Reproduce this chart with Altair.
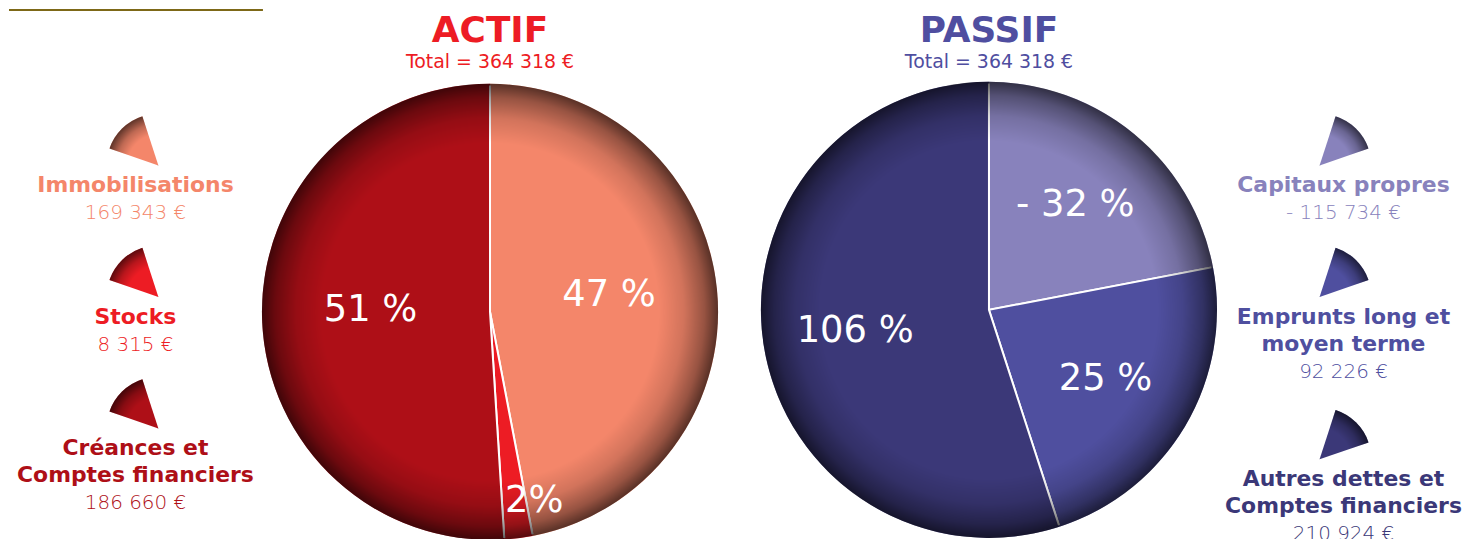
import math
import altair as alt
import pandas as pd

FONT = "DejaVu Sans"

# ---------- données ----------
actif_postes = ["Immobilisations", "Stocks", "Créances et\nComptes financiers"]
actif_montants = [169343, 8315, 186660]
actif_pourcentages = ["47 %", "2%", "51 %"]
actif_parts = [47, 2, 51]          # part du disque telle que dessinée (%)
actif_couleurs = ["#f4866a", "#ed1c24", "#ae0f17"]

passif_postes = ["Capitaux propres", "Emprunts long et\nmoyen terme", "Autres dettes et\nComptes financiers"]
passif_montants = [-115734, 92226, 210924]
passif_pourcentages = ["- 32 %", "25 %", "106 %"]
passif_parts = [22, 23, 55]        # part du disque telle que dessinée (%)
passif_couleurs = ["#8882bc", "#4f4f9f", "#3b3878"]

total_bilan = 364318
titres = ["ACTIF", "PASSIF"]
couleurs_titres = ["#ed1c24", "#4f4ea0"]


def euro(v):
    s = f"{abs(v):,}".replace(",", " ") + " €"
    return ("- " + s) if v < 0 else s


INTERLIGNE_SUPP = 31 / 132  # décalage vertical d'une entrée par ligne de libellé supplémentaire


def table(postes, montants, pourcentages, parts):
    lignes = [p.count("\n") + 1 for p in postes]
    rang, extra = [], 0
    for i, n in enumerate(lignes):
        rang.append(i + INTERLIGNE_SUPP * extra)
        extra += n - 1
    return pd.DataFrame({
        "poste": postes,
        "montant": [euro(m) for m in montants],
        "pourcentage": pourcentages,
        "part": parts,
        "ordre": list(range(len(postes))),
        "lignes": lignes,
        "rang": rang,
    })


df_actif = table(actif_postes, actif_montants, actif_pourcentages, actif_parts)
df_passif = table(passif_postes, passif_montants, passif_pourcentages, passif_parts)

couleur = alt.Scale(domain=actif_postes + passif_postes, range=actif_couleurs + passif_couleurs)
col = alt.Color("poste:N", scale=couleur, legend=None)

# ---------- styles ----------
R = 229
R_ICONE = 52

ombre_disque = {
    "gradient": "radial", "x1": 0.5, "y1": 0.5, "r1": 0, "x2": 0.5, "y2": 0.5, "r2": 0.5,
    "stops": [
        {"offset": 0, "color": "rgba(0,0,0,0)"},
        {"offset": 0.74, "color": "rgba(0,0,0,0)"},
        {"offset": 0.85, "color": "rgba(0,0,0,0.14)"},
        {"offset": 0.94, "color": "rgba(0,0,0,0.38)"},
        {"offset": 1, "color": "rgba(0,0,0,0.64)"},
    ],
}


def ombre_icone(cx):
    return {
        "gradient": "radial", "x1": cx, "y1": 1.0, "r1": 0, "x2": cx, "y2": 1.0, "r2": 1.051,
        "stops": [
            {"offset": 0, "color": "rgba(0,0,0,0)"},
            {"offset": 0.6, "color": "rgba(0,0,0,0)"},
            {"offset": 0.8, "color": "rgba(0,0,0,0.22)"},
            {"offset": 1, "color": "rgba(0,0,0,0.62)"},
        ],
    }


def legende(df, largeur, decalage_x, theta_deb, theta_fin, degrade, extra_layers=()):
    y = alt.Y("rang:Q", stack=None, scale=alt.Scale(domain=[0, 2], range=[90, 354]), axis=None)
    base = alt.Chart(df)
    icone = base.mark_arc(radius=R_ICONE, theta=theta_deb, theta2=theta_fin,
                          xOffset=decalage_x).encode(y=y, color=col)
    reflet = base.mark_arc(radius=R_ICONE, theta=theta_deb, theta2=theta_fin,
                           xOffset=decalage_x, fill=degrade).encode(y=y)
    libelle = base.mark_text(dy=27, baseline="alphabetic", lineBreak="\n", lineHeight=27,
                             fontSize=22, fontWeight="bold", font=FONT).encode(
        y=y, text="poste:N", color=col)
    montant1 = base.transform_filter("datum.lignes == 1").mark_text(
        dy=54, baseline="alphabetic", fontSize=20, fontWeight=300, font=FONT).encode(
        y=y, text="montant:N", color=col)
    montant2 = base.transform_filter("datum.lignes == 2").mark_text(
        dy=81, baseline="alphabetic", fontSize=20, fontWeight=300, font=FONT).encode(
        y=y, text="montant:N", color=col)
    return alt.layer(*extra_layers, icone, reflet, libelle, montant1, montant2).properties(
        width=largeur, height=470)


def camembert(df, titre, coul_titre, largeur, hauteur, r_txt, dy_txt):
    theta = alt.Theta("part:Q", stack=True)
    ordre = alt.Order("ordre:Q", sort="ascending")
    base = alt.Chart(df)
    parts = base.mark_arc(radius=R, stroke="white", strokeWidth=2).encode(
        theta=theta, order=ordre, color=col)
    # liseré de la couleur de chaque part pour masquer le trait blanc sur le pourtour
    bord = base.mark_arc(radius=R, radius2=R - 1.6).encode(theta=theta, order=ordre, color=col)
    ombre = alt.Chart(alt.Data(values=[{"disque": 1}])).mark_arc(
        radius=R, theta=0, theta2=2 * math.pi, fill=ombre_disque).encode(opacity=alt.value(1))
    grands = base.transform_calculate(
        etiquette="datum.part >= 5 ? datum.pourcentage : ''").mark_text(
        radius=r_txt, dy=dy_txt, fontSize=37, color="white", font=FONT).encode(
        theta=theta, order=ordre, text="etiquette:N")
    petits = base.transform_calculate(
        etiquette="datum.part < 5 ? datum.pourcentage : ''").mark_text(
        radius=195, dx=20, dy=-3, fontSize=37, color="white", font=FONT).encode(
        theta=theta, order=ordre, text="etiquette:N")
    titre_p = alt.TitleParams(
        text=titre, subtitle=f"Total = {euro(total_bilan)}", anchor="middle", frame="group",
        font=FONT, fontSize=36, fontWeight="bold", color=coul_titre,
        subtitleFont=FONT, subtitleFontSize=19, subtitleColor=coul_titre,
        subtitleFontWeight="normal", subtitlePadding=3, offset=3)
    return alt.layer(parts, bord, ombre, grands, petits).properties(
        width=largeur, height=hauteur, title=titre_p)


filet = alt.Chart(alt.Data(values=[{"filet": 1}])).mark_rule(
    color="#7d6817", strokeWidth=2).encode(x=alt.value(0), x2=alt.value(255), y=alt.value(-66))

gauche = legende(df_actif, 254, 23, math.radians(289), math.radians(342),
                 ombre_icone(0.997), extra_layers=(filet,))
actif = camembert(df_actif, titres[0], couleurs_titres[0], 458, 474, 120, -6)
passif = camembert(df_passif, titres[1], couleurs_titres[1], 544, 470, 136, 0)
droite = legende(df_passif, 168, -24, math.radians(18), math.radians(71), ombre_icone(0.003))

chart = alt.hconcat(gauche, actif, passif, droite, spacing=0, bounds="flush").properties(
    padding=0).configure(font=FONT, view=alt.ViewConfig(stroke=None))

chart.save("out.html", embed_options={"renderer": "svg", "actions": False})
